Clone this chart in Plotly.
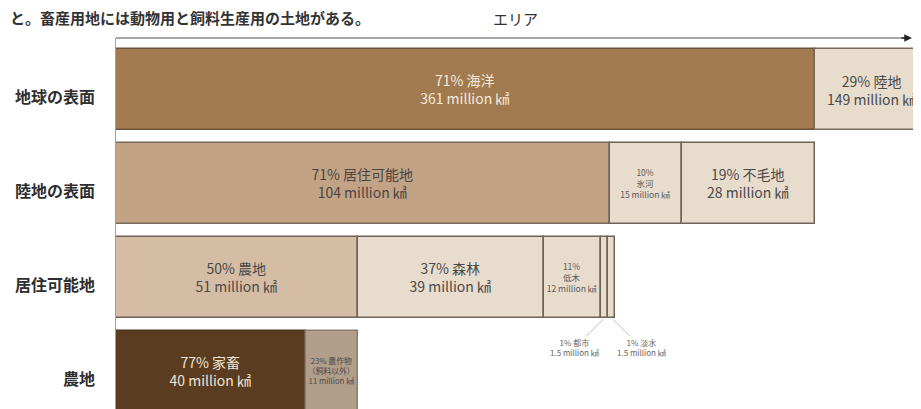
import plotly.graph_objects as go

FONT = "Noto Sans CJK JP"

# ---------------- data ----------------
row_labels = ["地球の表面", "陸地の表面", "居住可能地", "農地"]

seg_row = [0, 0, 1, 1, 1, 2, 2, 2, 2, 2, 3, 3]
seg_name = ["海洋", "陸地", "居住可能地", "氷河", "不毛地",
            "農地", "森林", "低木", "都市", "淡水",
            "家畜", "農作物<br>（飼料以外）"]
seg_pct = [71, 29, 71, 10, 19, 50, 37, 11, 1, 1, 77, 23]
seg_area = [361, 149, 104, 15, 28, 51, 39, 12, 1.5, 1.5, 40, 11]

# label style: big = inside, two lines; small = inside, three lines;
# edge = label placed in visible part; callout = label below with leader line
seg_style = ["big", "edge", "big", "small", "big",
             "big", "big", "small", "callout", "callout",
             "big", "small2"]

seg_color = ["#A27A4F", "#E8DCCD", "#C3A385", "#E8DCCD", "#E8DCCD",
             "#D5BDA5", "#E8DCCD", "#E8DCCD", "#E8DCCD", "#E8DCCD",
             "#5A3D20", "#B19E8B"]
seg_line = ["#6B5238", "#7A6A5D", "#7A6A5D", "#6E6259", "#6E6259",
            "#6E6259", "#6E6259", "#6E6259", "#6E6259", "#6E6259",
            "#4A3420", "#8C7C6E"]
seg_text_color = ["#F3EADF", "#4A4A4A", "#4A4440", "#5A5A5A", "#4A4A4A",
                  "#4A4A4A", "#4A4A4A", "#5A5A5A", "#666666", "#666666",
                  "#EFE3D3", "#4A4A4A"]

title_text = "エリア"
top_text = "と。畜産用地には動物用と飼料生産用の土地がある。"

XMAX = 171.0  # axis extent (display units)

# ---------------- geometry from data ----------------
# Row 0 is drawn so that the ocean segment spans the whole land row below.
land_row_total = sum(a for r, a in zip(seg_row, seg_area) if r == 1)
row_factor = {0: land_row_total / seg_area[0], 1: 1.0, 2: 1.0, 3: 1.0}

widths, bases = [], []
cursor = {}
for r, a in zip(seg_row, seg_area):
    w = a * row_factor[r]
    b = cursor.get(r, 0.0)
    widths.append(w)
    bases.append(b)
    cursor[r] = b + w


def fmt_area(a):
    return f"{a:g} million ㎢"


texts, sizes = [], []
for name, pct, area, style in zip(seg_name, seg_pct, seg_area, seg_style):
    if style == "big":
        texts.append(f"{pct}% {name}<br>{fmt_area(area)}")
        sizes.append(14)
    elif style == "small":
        texts.append(f"{pct}%<br>{name}<br>{fmt_area(area)}")
        sizes.append(8.5)
    elif style == "small2":
        texts.append(f"{pct}% {name}<br>{fmt_area(area)}")
        sizes.append(7.8)
    else:
        texts.append("")
        sizes.append(8)

fig = go.Figure()
fig.add_trace(go.Bar(
    y=seg_row, x=widths, base=bases, orientation="h", width=0.862,
    marker=dict(color=seg_color, line=dict(color=seg_line, width=1.5)),
    text=texts, textposition="inside", insidetextanchor="middle",
    textangle=0, constraintext="none",
    textfont=dict(family=FONT, size=sizes, color=seg_text_color),
    hoverinfo="skip", showlegend=False,
))

annotations = []
# row labels
for i, lab in enumerate(row_labels):
    annotations.append(dict(
        xref="paper", x=0, xanchor="right", xshift=-19,
        yref="y", y=i, yshift=-6, text=f"<b>{lab}</b>", showarrow=False,
        font=dict(family=FONT, size=16, color="#2E2E2E")))

# labels that sit outside / at edge
for k, style in enumerate(seg_style):
    if style == "edge":
        xc = (bases[k] + XMAX) / 2
        annotations.append(dict(
            x=xc, y=seg_row[k], xref="x", yref="y", showarrow=False,
            text=f"{seg_pct[k]}% {seg_name[k]}<br>{fmt_area(seg_area[k])}",
            font=dict(family=FONT, size=14, color=seg_text_color[k])))
    elif style == "callout":
        xc = bases[k] + widths[k] / 2
        side = -1 if seg_name[k] == "都市" else 1
        annotations.append(dict(
            x=xc, y=seg_row[k] + 0.43, xref="x", yref="y",
            ax=side * 30, ay=30, axref="pixel", ayref="pixel",
            showarrow=True, arrowhead=0, arrowwidth=0.8, arrowcolor="#AAAAAA",
            standoff=2,
            text=f"{seg_pct[k]}% {seg_name[k]}<br>{fmt_area(seg_area[k])}",
            font=dict(family=FONT, size=8, color=seg_text_color[k])))

# title above arrow
annotations.append(dict(
    xref="paper", x=0.491, yref="paper", y=1, yanchor="bottom", yshift=7,
    text=title_text, showarrow=False,
    font=dict(family=FONT, size=15, color="#333333")))

# arrowhead of area axis
annotations.append(dict(
    xref="paper", x=0.979, yref="paper", y=1,
    ax=-12, ay=0, showarrow=True, arrowhead=2, arrowsize=1.1,
    arrowwidth=1.4, arrowcolor="#222222", text=""))

# caption line at very top
annotations.append(dict(
    xref="paper", x=0, xanchor="left", xshift=-108,
    yref="paper", y=1, yanchor="middle", yshift=21,
    text=f"<b>{top_text}</b>", showarrow=False,
    font=dict(family=FONT, size=15, color="#333333")))

fig.update_layout(
    width=921, height=409,
    margin=dict(l=108, r=0, t=30, b=0, pad=0),
    paper_bgcolor="white", plot_bgcolor="white",
    barmode="overlay", bargap=0,
    font=dict(family=FONT),
    annotations=annotations,
    shapes=[dict(type="line", xref="paper", yref="paper",
                 x0=0, x1=0.976, y0=1, y1=1,
                 line=dict(color="#8A8A8A", width=1.6))],
    xaxis=dict(range=[0, XMAX], showgrid=False, zeroline=False,
               showticklabels=False, showline=False, fixedrange=True),
    yaxis=dict(range=[3.484, -0.548], showgrid=False, zeroline=False,
               showticklabels=False, showline=True, linecolor="#A0A0A0",
               linewidth=1, fixedrange=True),
)

fig.write_html("out.html")
